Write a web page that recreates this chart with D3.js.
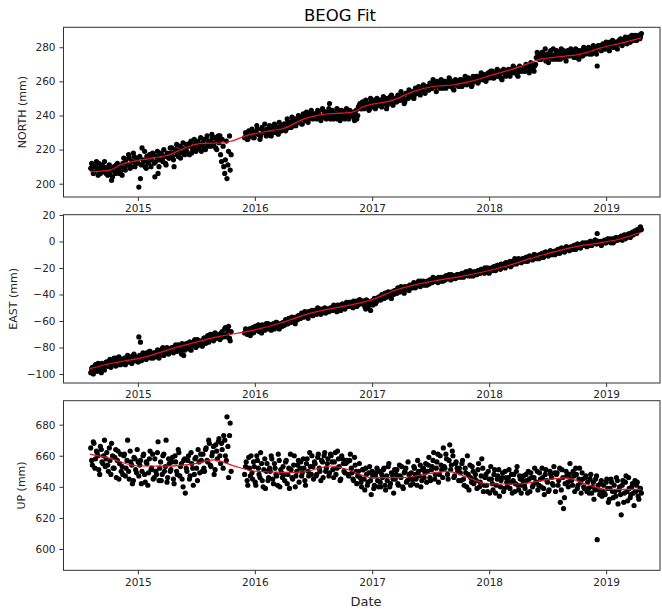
<!DOCTYPE html>
<html>
<head>
<meta charset="utf-8">
<script src="https://cdn.jsdelivr.net/npm/d3@7"></script>
<style>
  body { margin: 0; background: #fff; }
  text { font-family: "DejaVu Sans", sans-serif; }
</style>
</head>
<body>
<div id="chart"></div>
<script>
var width = 662;
var height = 609;

// daily solutions thinned to one every 5 days, two interleaved runs (null = no data)
var sampleStart = Date.UTC(2014, 7, 7);
var sampleStartB = Date.UTC(2014, 7, 10);
var sampleStepDays = 5;

var northValues = [
  209,211,207,210,208,212,206,209,210,207,
  208,210,206,202,209,207,211,208,206,210,
  212,209,214,211,215,210,213,216,212,214,
  198,203,221,213,210,216,212,215,214,217,
  204,216,206,214,218,213,216,211,217,215,
  218,216,210,220,217,219,215,221,218,220,
  219,222,224,218,221,223,220,225,222,219,
  224,221,226,223,225,222,227,224,221,226,
  224,217,226,210,214,203,219,208,null,null,
  null,null,null,null,null,null,227,229,226,230,
  228,231,227,230,232,229,228,233,230,231,
  232,229,233,231,230,234,232,229,233,231,
  233,235,232,236,234,233,237,235,234,237,
  236,238,235,239,237,240,238,241,239,240,
  241,238,242,240,239,243,241,238,242,247,
  240,242,239,241,238,243,240,239,242,240,
  241,238,242,240,239,241,238,245,247,244,
  246,248,245,247,244,248,246,249,245,247,
  248,246,249,247,250,246,248,251,247,249,
  250,248,251,249,252,250,248,253,250,252,
  251,253,252,255,253,256,254,257,255,256,
  257,255,258,256,259,257,260,258,256,259,
  258,260,257,259,261,258,256,260,258,259,
  259,261,258,260,262,259,261,260,258,262,
  261,263,260,262,264,261,263,262,265,263,
  264,262,265,263,266,264,262,266,265,263,
  266,264,267,265,268,266,264,268,266,267,
  268,266,269,267,268,270,267,269,274,276,
  275,273,277,274,272,276,274,278,273,275,
  276,274,277,273,275,278,274,276,275,277,
  275,277,276,274,278,276,277,275,279,277,
  278,276,279,277,280,278,269,279,281,280,
  281,279,282,280,283,281,280,282,281,283,
  282,284,283,285,283,284,286,284,285,286,
  286,285,287,286
];
var northValuesB = [
  212,206,210,213,205,209,211,207,213,206,
  205,211,208,204,210,206,212,209,207,205,
  215,208,211,217,209,213,218,210,215,212,
  216,211,214,219,209,213,217,210,218,212,
  213,219,210,217,214,220,212,218,215,221,
  221,214,219,223,216,222,218,224,217,223,
  223,217,225,220,226,219,224,221,227,223,
  226,220,228,222,225,229,223,227,220,228,
  228,213,222,206,225,211,228,217,null,null,
  null,null,null,null,null,null,230,226,231,228,
  232,227,230,234,229,226,232,230,235,228,
  230,234,228,233,235,230,233,236,231,234,
  235,231,238,233,236,239,234,238,236,240,
  239,235,241,238,242,236,240,243,238,241,
  239,243,240,237,244,239,242,240,244,238,
  243,238,241,244,240,237,243,241,238,244,
  239,243,240,242,237,243,240,246,244,248,
  244,249,246,243,250,245,248,244,250,246,
  249,245,251,247,244,250,248,252,246,250,
  248,252,249,254,251,247,253,250,255,251,
  254,250,256,253,257,252,255,258,253,257,
  255,259,256,261,257,254,259,257,261,256,
  260,256,259,262,257,260,255,261,259,257,
  261,257,260,263,258,262,259,257,263,260,
  263,259,262,265,261,264,260,264,262,266,
  266,262,264,267,263,266,261,267,264,265,
  267,263,266,269,265,267,263,269,266,268,
  266,270,268,265,271,268,266,270,277,273,
  273,277,275,279,274,271,277,275,279,273,
  278,273,276,279,274,277,272,278,275,279,
  277,274,279,276,273,278,275,280,276,278,
  280,277,276,281,278,276,281,279,278,282,
  279,283,281,278,282,284,280,283,279,284,
  285,281,284,286,282,285,283,287,284,287,
  284,287,285,288
];

var eastValues = [
  -99,-95,-97,-93,-98,-94,-96,-92,-95,-93,
  -91,-94,-89,-93,-90,-92,-88,-93,-91,-89,
  -92,-88,-91,-86,-90,-87,-89,-85,-90,-87,
  -72,-76,-89,-85,-88,-84,-87,-83,-86,-88,
  -84,-87,-82,-86,-83,-80,-85,-82,-84,-81,
  -83,-80,-82,-78,-81,-79,-83,-77,-86,-80,
  -78,-81,-76,-79,-77,-74,-79,-76,-78,-75,
  -76,-73,-75,-71,-74,-72,-70,-74,-71,-73,
  -70,-73,-68,-71,-65,-72,-64,-75,null,null,
  null,null,null,null,null,null,-69,-67,-70,-66,
  -68,-65,-67,-64,-66,-68,-65,-63,-66,-64,
  -64,-66,-63,-65,-62,-64,-61,-63,-65,-62,
  -61,-63,-60,-62,-59,-61,-58,-60,-57,-59,
  -56,-58,-55,-57,-54,-56,-53,-55,-52,-54,
  -52,-55,-53,-51,-54,-52,-50,-53,-51,-52,
  -50,-52,-49,-51,-48,-50,-52,-47,-49,-48,
  -47,-49,-46,-48,-45,-47,-49,-46,-44,-47,
  -45,-49,-44,-50,-47,-45,-48,-43,-46,-44,
  -42,-44,-41,-43,-40,-41,-39,-41,-38,-40,
  -37,-39,-36,-38,-35,-37,-34,-36,-35,-33,
  -33,-35,-32,-34,-31,-33,-30,-32,-33,-31,
  -30,-32,-29,-31,-28,-30,-29,-27,-30,-28,
  -27,-29,-26,-28,-27,-25,-28,-26,-27,-25,
  -25,-27,-24,-26,-23,-25,-24,-26,-23,-24,
  -23,-25,-22,-24,-21,-23,-20,-22,-23,-21,
  -20,-22,-19,-21,-18,-20,-17,-19,-18,-16,
  -18,-16,-19,-15,-17,-14,-16,-13,-15,-14,
  -13,-15,-12,-14,-11,-13,-12,-10,-13,-11,
  -10,-12,-9,-11,-8,-10,-9,-7,-10,-8,
  -7,-9,-6,-8,-5,-7,-6,-4,-6,-5,
  -4,-6,-3,-5,-2,-4,-3,-1,-3,-2,
  -1,-3,0,-2,-1,1,6,-1,0,-2,
  0,-1,1,0,2,1,-1,2,1,3,
  2,4,3,5,3,5,6,4,7,6,
  7,9,8,11
];
var eastValuesB = [
  -96,-100,-94,-97,-92,-96,-99,-94,-97,-91,
  -94,-90,-95,-91,-88,-94,-90,-87,-93,-92,
  -89,-93,-87,-91,-88,-92,-86,-90,-88,-91,
  -86,-90,-84,-87,-89,-86,-83,-88,-85,-84,
  -86,-82,-88,-84,-81,-86,-83,-80,-85,-83,
  -80,-84,-79,-83,-78,-81,-85,-80,-82,-77,
  -80,-76,-82,-78,-75,-80,-74,-78,-76,-79,
  -73,-77,-72,-76,-70,-73,-75,-69,-72,-71,
  -74,-69,-72,-66,-70,-67,-73,-68,null,null,
  null,null,null,null,null,null,-66,-70,-68,-71,
  -66,-69,-64,-67,-63,-66,-69,-65,-67,-62,
  -62,-65,-67,-63,-66,-61,-64,-66,-62,-64,
  -63,-59,-62,-58,-61,-57,-60,-62,-59,-56,
  -58,-54,-57,-53,-56,-58,-55,-53,-56,-52,
  -54,-50,-53,-55,-51,-53,-54,-51,-53,-50,
  -52,-48,-50,-53,-51,-48,-50,-49,-51,-46,
  -49,-46,-48,-50,-47,-45,-48,-44,-47,-45,
  -47,-51,-45,-48,-52,-46,-44,-47,-45,-42,
  -44,-40,-42,-39,-42,-38,-40,-43,-39,-37,
  -39,-35,-38,-34,-37,-39,-35,-34,-37,-35,
  -34,-31,-35,-32,-30,-34,-32,-30,-31,-33,
  -32,-29,-31,-27,-30,-28,-31,-29,-27,-30,
  -29,-26,-28,-25,-29,-27,-26,-28,-25,-27,
  -26,-24,-27,-25,-23,-26,-22,-25,-26,-23,
  -25,-22,-24,-21,-23,-24,-22,-20,-24,-22,
  -21,-19,-22,-18,-20,-21,-18,-17,-20,-18,
  -17,-15,-18,-16,-13,-17,-15,-14,-16,-13,
  -14,-12,-15,-11,-13,-14,-10,-12,-11,-13,
  -11,-9,-12,-8,-10,-11,-7,-9,-8,-10,
  -8,-6,-9,-5,-7,-8,-4,-6,-7,-4,
  -5,-3,-6,-2,-4,-5,-2,-3,-1,-4,
  -2,0,-3,-1,1,-2,0,-1,-3,0,
  1,-1,2,0,-1,2,0,3,1,2,
  3,1,4,2,5,4,3,6,5,8,
  6,8,10,9
];

var upValues = [
  665,654,668,658,662,651,666,656,660,653,
  662,650,657,668,652,659,646,663,655,650,
  648,661,652,670,645,656,642,659,651,664,
  647,657,650,661,643,655,649,663,652,645,
  658,648,669,652,644,660,650,670,646,655,
  651,659,642,656,648,662,653,645,657,636,
  650,660,647,655,641,658,652,664,649,657,
  661,650,665,656,668,653,662,648,667,658,
  671,655,664,673,660,685,646,681,null,null,
  null,null,null,null,null,null,648,656,641,652,
  660,645,653,641,657,648,662,644,651,639,
  655,646,650,658,642,652,647,661,640,649,
  653,644,657,648,639,651,645,660,647,654,
  643,656,649,652,641,658,647,653,660,645,
  655,648,661,650,657,646,662,652,658,649,
  660,651,656,648,663,653,645,658,650,655,
  656,647,661,649,644,654,642,650,646,640,
  651,638,648,643,653,635,647,641,649,644,
  650,640,646,652,638,644,655,642,648,636,
  645,651,641,647,653,639,650,643,656,645,
  649,642,652,645,657,647,640,651,646,655,
  650,659,644,653,662,648,656,643,660,651,
  665,652,658,645,667,654,660,647,656,650,
  652,644,657,641,649,660,638,646,653,642,
  648,639,655,643,658,637,646,641,650,636,
  645,638,651,641,647,634,644,649,639,646,
  640,651,643,636,648,642,653,638,645,641,
  647,639,644,650,637,646,641,652,643,638,
  649,640,646,635,651,643,638,648,642,653,
  637,649,644,630,651,626,642,647,640,655,
  644,650,637,648,641,652,636,645,639,647,
  643,636,648,640,632,645,606,638,642,634,
  641,635,645,630,639,643,633,637,646,629,
  640,622,644,636,647,631,639,635,642,628,
  637,643,632,639
];
var upValuesB = [
  657,669,652,663,660,648,664,655,670,658,
  654,665,648,660,652,664,657,645,661,653,
  660,647,657,650,663,654,644,658,649,656,
  654,642,660,648,656,641,658,651,661,646,
  650,662,644,656,648,661,653,643,658,650,
  656,645,660,650,664,647,655,640,658,652,
  657,645,662,652,648,659,644,656,661,650,
  652,664,657,670,654,660,666,651,663,669,
  660,668,652,670,657,666,673,650,null,null,
  null,null,null,null,null,null,653,644,659,647,
  649,656,643,660,652,646,655,640,658,650,
  644,652,660,645,655,648,641,657,651,646,
  648,656,642,652,661,646,654,640,650,657,
  652,647,658,644,655,650,662,648,653,656,
  647,659,652,644,656,660,650,655,647,661,
  656,646,662,652,658,644,660,655,649,657,
  648,657,652,645,659,650,647,655,643,651,
  645,652,641,649,644,650,639,647,652,640,
  643,648,651,641,647,653,640,649,645,651,
  648,642,654,646,640,649,652,644,648,641,
  645,653,648,641,650,654,644,652,649,643,
  654,646,651,657,645,652,661,648,654,646,
  653,661,648,657,651,663,646,655,652,644,
  649,655,645,652,640,648,654,643,650,645,
  644,651,640,647,652,641,648,637,645,653,
  642,648,636,645,651,640,646,637,650,643,
  646,639,648,644,637,650,641,647,636,644,
  641,648,636,645,649,640,646,643,650,641,
  645,652,639,648,644,637,650,646,641,649,
  648,641,652,638,646,633,650,643,648,645,
  641,647,652,639,645,643,649,640,646,637,
  639,645,636,643,638,647,641,635,644,637,
  636,643,639,632,645,637,641,634,644,638,
  635,641,630,643,637,646,633,640,636,644,
  641,634,638,636
];

// fitted model, sampled at decimal years
var northFitYears = [2014.59,2014.76,2014.85,2015.02,2015.19,2015.28,2015.36,2015.45,2015.53,2015.73,2015.8,2015.92,2016.13,2016.25,2016.42,2016.57,2016.83,2016.92,2017.18,2017.35,2017.52,2017.7,2017.84,2018.03,2018.26,2018.44,2018.61,2018.78,2018.95,2019.12,2019.3];
var northFit = [207,208,211,213.9,215.8,217.2,219.8,222.1,223.5,224,225,228,231,232.5,238,240.5,242,245,249,254,257,258,260,263.8,268.5,273,274.5,276,279.5,282.3,285.5];

var eastFitYears = [2014.59,2014.8,2015.02,2015.36,2015.7,2015.96,2016.22,2016.5,2016.75,2016.98,2017.21,2017.5,2017.75,2018.0,2018.15,2018.35,2018.61,2018.8,2018.95,2019.1,2019.3];
var eastFit = [-96,-91.5,-88,-79.2,-71.6,-67.5,-61.5,-53.5,-49,-44.5,-36.4,-30.2,-26.5,-21.9,-18.5,-13,-6.5,-3,-1,1.5,7];

var upFitYears = [2014.59,2014.75,2015.0,2015.25,2015.5,2015.65,2015.8,2016.0,2016.25,2016.4,2016.65,2016.8,2017.0,2017.25,2017.5,2017.65,2017.8,2018.0,2018.25,2018.45,2018.65,2018.85,2019.0,2019.3];
var upFit = [661,658.5,653.4,653.3,655.1,657.3,654,650,649.3,649.5,653.4,650.8,645.9,645.9,648.7,650,646.5,641.8,641.8,644,645.7,641.2,638.4,638.4];

var yearTicks = [2015, 2016, 2017, 2018, 2019];
var northTicks = [200, 220, 240, 260, 280];
var eastTicks = [-100, -80, -60, -40, -20, 0, 20];
var upTicks = [600, 620, 640, 660, 680];

var yearToDate = function(yr){
  var y0 = Math.floor(yr);
  var a = Date.UTC(y0, 0, 1), b = Date.UTC(y0 + 1, 0, 1);
  return new Date(a + (yr - y0) * (b - a));
};

var toPoints = function(start, values){
  var pts = [];
  values.forEach(function(v, i){
    if (v === null) return;
    pts.push({ date: new Date(start + i * sampleStepDays * 864e5), value: v });
  });
  return pts;
};

var svg = d3.select("#chart").append("svg")
  .attr("width", width)
  .attr("height", height)
  .attr("viewBox", "0 0 " + width + " " + height);

var left = 63.5, right = 660;

var x = d3.scaleUtc()
  .domain([new Date(Date.UTC(2014, 4, 14)), new Date(Date.UTC(2019, 5, 18))])
  .range([left, right]);

svg.append("text")
  .attr("x", 340).attr("y", 21)
  .attr("text-anchor", "middle")
  .style("font-size", "16.5px")
  .text("BEOG Fit");

var drawPanel = function(p){
  var y = d3.scaleLinear().domain(p.domain).range([p.bottom, p.top]);
  var g = svg.append("g");

  // axes background hides the tick labels of the panel above, as in matplotlib
  g.append("rect")
    .attr("x", left).attr("y", p.top)
    .attr("width", right - left).attr("height", p.bottom - p.top)
    .attr("fill", "#fff");

  var pts = toPoints(sampleStart, p.values).concat(toPoints(sampleStartB, p.valuesB));

  g.append("g").selectAll("circle")
    .data(pts)
    .enter()
    .append("circle")
    .attr("cx", function(d){ return x(d.date); })
    .attr("cy", function(d){ return y(d.value); })
    .attr("r", 2.6)
    .attr("fill", "#000");

  var fit = p.fitYears.map(function(yr, i){ return [yearToDate(yr), p.fit[i]]; });
  g.append("path")
    .datum(fit)
    .attr("fill", "none")
    .attr("stroke", "#e8141c")
    .attr("stroke-width", 1.2)
    .attr("d", d3.line()
      .x(function(d){ return x(d[0]); })
      .y(function(d){ return y(d[1]); })
      .curve(d3.curveMonotoneX));

  var yAxis = g.append("g")
    .attr("transform", "translate(" + left + ",0)")
    .call(d3.axisLeft(y).tickValues(p.ticks).tickSize(4).tickPadding(4).tickFormat(d3.format("d")));
  var xAxis = g.append("g")
    .attr("transform", "translate(0," + p.bottom + ")")
    .call(d3.axisBottom(x).tickValues(yearTicks.map(function(t){ return new Date(Date.UTC(t, 0, 1)); }))
      .tickSize(4).tickPadding(4).tickFormat(d3.utcFormat("%Y")));
  [yAxis, xAxis].forEach(function(a){
    a.select(".domain").remove();
    a.selectAll("line").attr("stroke", "#333");
    a.selectAll("text").style("font-size", "10.5px").attr("fill", "#262626").attr("font-family", null);
  });

  g.append("rect")
    .attr("x", left).attr("y", p.top)
    .attr("width", right - left).attr("height", p.bottom - p.top)
    .attr("fill", "none")
    .attr("stroke", "#333")
    .attr("stroke-width", 1);

  g.append("text")
    .attr("transform", "translate(" + p.labelX + "," + ((p.top + p.bottom) / 2) + ") rotate(-90)")
    .attr("text-anchor", "middle")
    .attr("dy", "0.35em")
    .style("font-size", "11px")
    .attr("fill", "#262626")
    .text(p.label);
};

drawPanel({ label: "NORTH (mm)", labelX: 22, top: 27.3, bottom: 197, domain: [192.2, 291.7],
  ticks: northTicks, values: northValues, valuesB: northValuesB, fitYears: northFitYears, fit: northFit });
drawPanel({ label: "EAST (mm)", labelX: 13.5, top: 214.7, bottom: 383, domain: [-106.8, 20.2],
  ticks: eastTicks, values: eastValues, valuesB: eastValuesB, fitYears: eastFitYears, fit: eastFit });
drawPanel({ label: "UP (mm)", labelX: 21.5, top: 400.7, bottom: 570.3, domain: [586.3, 695.4],
  ticks: upTicks, values: upValues, valuesB: upValuesB, fitYears: upFitYears, fit: upFit });

svg.append("text")
  .attr("x", 366).attr("y", 605.5)
  .attr("text-anchor", "middle")
  .style("font-size", "13px")
  .attr("fill", "#262626")
  .text("Date");
</script>
</body>
</html>
